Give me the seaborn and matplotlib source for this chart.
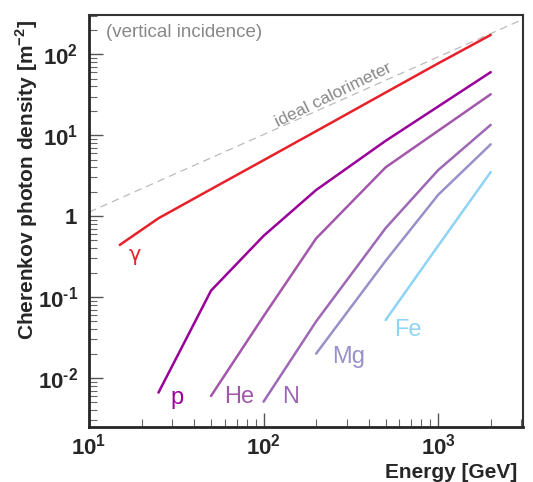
import matplotlib
matplotlib.use("Agg")
import matplotlib.pyplot as plt
import matplotlib.ticker as ticker
import numpy as np
import pandas as pd
import seaborn as sns

# Values
gamma_E = [15, 25, 50, 100, 200, 500, 1000, 2000]
gamma_D = [0.44, 0.94, 2.15, 4.9, 11.2, 33.6, 77, 173]

p_E = [25, 50, 100, 200, 500, 2000]
p_D = [0.0066, 0.12, 0.57, 2.1, 8.5, 60]

he_E = [50, 100, 200, 500, 2000]
he_D = [0.006, 0.058, 0.53, 4.0, 32]

n_E = [100, 200, 500, 1000, 2000]
n_D = [0.0051, 0.05, 0.71, 3.7, 13.4]

mg_E = [200, 500, 1000, 2000]
mg_D = [0.02, 0.28, 1.83, 7.7]

fe_E = [500, 1000, 2000]
fe_D = [0.052, 0.43, 3.5]

calo_E = [10, 3000]
calo_D = [1.12, 265]

species = ["gamma", "p", "He", "N", "Mg", "Fe"]
labels = ["γ", "p", "He", "N", "Mg", "Fe"]
colors = ["#e8202a", "#990099", "#a257ab", "#9d68b6", "#9a90c9", "#8fd4f5"]

sns.set_style("ticks")
plt.rcParams["font.family"] = ["Liberation Sans", "DejaVu Sans"]
plt.rcParams["mathtext.fontset"] = "custom"
plt.rcParams["mathtext.rm"] = "Liberation Sans:bold"
plt.rcParams["mathtext.bf"] = "Liberation Sans:bold"

frames = []
for name, E, D in zip(species,
                      [gamma_E, p_E, he_E, n_E, mg_E, fe_E],
                      [gamma_D, p_D, he_D, n_D, mg_D, fe_D]):
    frames.append(pd.DataFrame({"Energy": E, "Density": D, "species": name}))
df = pd.concat(frames, ignore_index=True)

fig = plt.figure(figsize=(5.33, 4.82), dpi=100)
ax = fig.add_axes([0.167, 0.1147, 0.8137, 0.8542])

# ideal calorimeter reference line
sns.lineplot(x=calo_E, y=calo_D, ax=ax, color="#bbbbbb", lw=0.9,
             linestyle=(0, (6, 4)), legend=False)

sns.lineplot(data=df, x="Energy", y="Density", hue="species",
             palette=dict(zip(species, colors)), estimator=None, sort=False,
             units="species", lw=1.8, legend=False, ax=ax)

ax.set_xscale("log")
ax.set_yscale("log")
ax.set_xlim(10, 3050)
ax.set_ylim(0.0025, 305)

# species labels
label_pos = {"γ": (18.4, 0.33), "p": (31.9, 0.0057), "He": (72.4, 0.0058),
             "N": (142, 0.0058), "Mg": (305, 0.0183), "Fe": (673, 0.0394)}
for lab, col in zip(labels, colors):
    x, y = label_pos[lab]
    fam = ["DejaVu Sans"] if lab == "γ" else ["Liberation Sans", "DejaVu Sans"]
    ax.text(x, y, lab, color=col, fontsize=17 if lab != "γ" else 15,
            ha="center", va="center", family=fam)

ax.text(12.5, 183, "(vertical incidence)", color="#888888", fontsize=13.5,
        ha="left", va="center")
ax.text(250, 31.5, "ideal calorimeter", color="#888888", fontsize=12.5,
        rotation=26, ha="center", va="center", rotation_mode="anchor")


def fmt(v, pos):
    e = int(round(np.log10(v)))
    if e == 0:
        return r"$\mathbf{1}$"
    if e < 0:
        return r"$\mathbf{10}^{\text{-}\mathbf{%d}}$" % (-e)
    return r"$\mathbf{10^{%d}}$" % e


ax.xaxis.set_major_formatter(ticker.FuncFormatter(fmt))
ax.yaxis.set_major_formatter(ticker.FuncFormatter(fmt))
ax.xaxis.set_minor_formatter(ticker.NullFormatter())
ax.yaxis.set_minor_formatter(ticker.NullFormatter())
ax.tick_params(axis="both", which="major", direction="in", length=10,
               width=1.0, color="#555555", labelsize=16, pad=8)
ax.tick_params(axis="x", which="major", pad=5)
ax.tick_params(axis="both", which="minor", direction="in", length=6,
               width=0.8, color="#666666")
ax.tick_params(top=False, right=False, which="both")

for side in ["left", "bottom"]:
    ax.spines[side].set_linewidth(2.0)
for side in ["top", "right"]:
    ax.spines[side].set_linewidth(1.5)
    ax.spines[side].set_color("#333333")

ax.set_xlabel("Energy [GeV]", fontsize=15, fontweight="bold", loc="right")
ax.xaxis.set_label_coords(0.987, -0.087)
ax.set_ylabel(r"Cherenkov photon density [m$^{\mathbf{-2}}$]", fontsize=15,
              fontweight="bold", loc="top")
ax.yaxis.set_label_coords(-0.112, 0.988)

fig.savefig("out.png", dpi=100)
